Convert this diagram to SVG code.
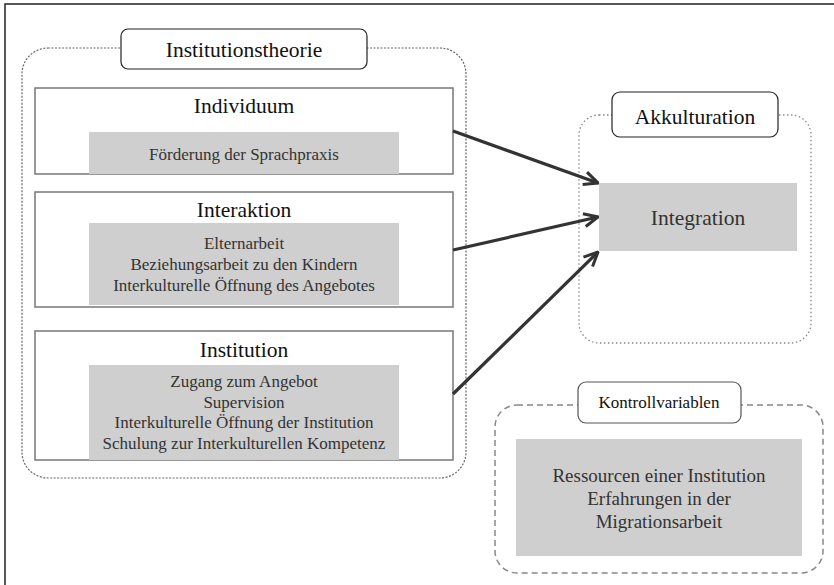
<svg xmlns="http://www.w3.org/2000/svg" width="834" height="585" viewBox="0 0 834 585" font-family="'Liberation Serif', 'DejaVu Serif', serif">
<style>
text{font-family:'Liberation Serif','DejaVu Serif',serif;text-anchor:middle}
.t{font-size:21.5px;fill:#111}
.s{font-size:17px;fill:#333}
.m{font-size:19px;fill:#333}
.box{fill:#fff;stroke:#777;stroke-width:1.5}
.gray{fill:#cfcfcf}
.title{fill:#fff;stroke:#222;stroke-width:1.2}
.arrow{stroke:#333;stroke-width:3.2;fill:none}
</style>
<defs>
<marker id="ah" viewBox="0 0 16 16" refX="15" refY="8" markerWidth="16" markerHeight="16" markerUnits="userSpaceOnUse" orient="auto">
<path d="M1,1.5 L15,8 L1,14.5" fill="none" stroke="#333" stroke-width="3" stroke-linejoin="miter"/>
</marker>
</defs>
<rect width="834" height="585" fill="#fff"/>
<rect x="5" y="4" width="900" height="700" fill="none" stroke="#222" stroke-width="1.5"/>

<g id="institutionstheorie">
<rect x="22" y="48" width="444" height="430" rx="26" fill="none" stroke="#666" stroke-width="1.2" stroke-dasharray="2,1.5"/>
<rect x="121" y="29" width="246" height="40" rx="7" class="title"/>
<text x="244" y="57" class="t">Institutionstheorie</text>
</g>

<g id="individuum">
<rect x="35" y="88" width="418" height="86" class="box"/>
<rect x="89" y="132" width="310" height="42" class="gray"/>
<text x="244" y="113" class="t">Individuum</text>
<text x="244" y="160" class="s">Förderung der Sprachpraxis</text>
</g>

<g id="interaktion">
<rect x="35" y="192" width="418" height="115" class="box"/>
<rect x="89" y="223" width="310" height="82" class="gray"/>
<text x="244" y="217" class="t">Interaktion</text>
<text x="244" y="249" class="s">Elternarbeit</text>
<text x="244" y="270" class="s">Beziehungsarbeit zu den Kindern</text>
<text x="244" y="291" class="s">Interkulturelle Öffnung des Angebotes</text>
</g>

<g id="institution">
<rect x="35" y="331" width="418" height="129" class="box"/>
<rect x="89" y="365" width="310" height="95" class="gray"/>
<text x="244" y="357" class="t">Institution</text>
<text x="244" y="387" class="s">Zugang zum Angebot</text>
<text x="244" y="408" class="s">Supervision</text>
<text x="244" y="428" class="s">Interkulturelle Öffnung der Institution</text>
<text x="244" y="449" class="s">Schulung zur Interkulturellen Kompetenz</text>
</g>

<g id="akkulturation">
<rect x="579" y="115" width="232" height="228" rx="20" fill="none" stroke="#888" stroke-width="1.3" stroke-dasharray="1.5,2.5"/>
<rect x="612" y="92" width="166" height="45" rx="8" class="title"/>
<text x="695" y="124" class="t">Akkulturation</text>
</g>

<g id="integration">
<rect x="599" y="183" width="198" height="68" class="gray"/>
<text x="698" y="225" class="t" style="fill:#333">Integration</text>
</g>

<g id="kontrollvariablen">
<rect x="495" y="405" width="328" height="168" rx="22" fill="none" stroke="#888" stroke-width="1.5" stroke-dasharray="6,4"/>
<rect x="578" y="382" width="163" height="41" rx="8" class="title" style="stroke:#555"/>
<text x="659" y="408" class="s" style="fill:#111">Kontrollvariablen</text>
<rect x="516" y="439" width="286" height="117" class="gray"/>
<text x="659" y="482" class="m">Ressourcen einer Institution</text>
<text x="659" y="505" class="m">Erfahrungen in der</text>
<text x="659" y="528" class="m">Migrationsarbeit</text>
</g>

<g id="connectors">
<line x1="453" y1="131" x2="598" y2="183" class="arrow" marker-end="url(#ah)"/>
<line x1="453" y1="250" x2="598" y2="217" class="arrow" marker-end="url(#ah)"/>
<line x1="453" y1="394" x2="598" y2="252" class="arrow" marker-end="url(#ah)"/>
</g>
</svg>
